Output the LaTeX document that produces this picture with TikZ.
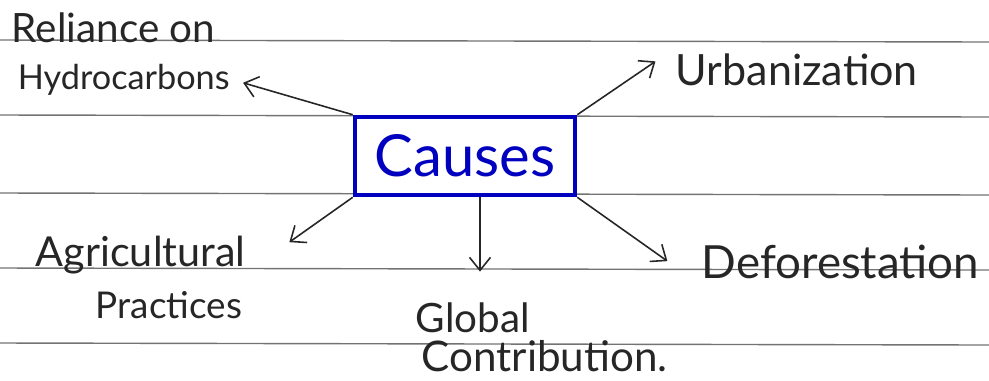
\documentclass[tikz,border=0pt]{standalone}
\usepackage{fontspec}
\setmainfont{Lato}
\usepackage{xcolor}
\usepackage{tikz}
\usetikzlibrary{arrows.meta, positioning}

\begin{document}
\begin{tikzpicture}[
    x=0.02cm, y=-0.02cm,
    causebox/.style={rectangle, draw=blue!75!black, line width=2.6pt, text=blue!75!black, minimum width=4.4cm, minimum height=1.56cm, inner sep=0pt, font=\fontsize{33}{38}\selectfont},
    label/.style={text=black!85, inner sep=2pt, font=\fontsize{#1}{#1}\selectfont},
    label/.default=21,
    ruling/.style={black!55, line width=0.8pt},
    arrow/.style={-{Straight Barb[length=2.6mm, width=4.2mm]}, line width=0.9pt, black!85}
]
\useasboundingbox (0,0) rectangle (989,380);

% Paper lines
\foreach \y in {40,115,193,268,343}
    \draw[ruling] (0,\y) -- (989,\y+2);

% Main box
\node[causebox] (causes) at (465,156) {Causes};

% Labels
\node[label=23, anchor=west] (reliance) at (8,28) {Reliance on};
\node[label=19.5, anchor=west] (hydro) at (14,80) {Hydrocarbons};
\node[label=24.5, anchor=west] (urban) at (672,70) {Urbanization};
\node[label=23.5, anchor=west] (agri) at (32,255) {Agricultural};
\node[label=21, anchor=west] (practice) at (92,305) {Practices};
\node[label=23, anchor=west] (global) at (412,318) {Global};
\node[label=24, anchor=west] (contrib) at (418,356) {Contribution.};
\node[label=26, anchor=west] (defor) at (698,262) {Deforestation};

% Arrows
\draw[arrow, shorten >=0.2cm] (causes.north west) -- (hydro.east);
\draw[arrow, shorten >=0.4cm] (causes.north east) -- (urban.north west);
\draw[arrow] (causes.south west) -- ([shift={(40,10)}]agri.north east);
\draw[arrow, shorten >=0.55cm] ([xshift=0.3cm]causes.south) -- ([xshift=0.3cm]causes.south |- global.north);
\draw[arrow, shorten >=0.75cm] (causes.south east) -- (defor.south west);

\end{tikzpicture}
\end{document}
